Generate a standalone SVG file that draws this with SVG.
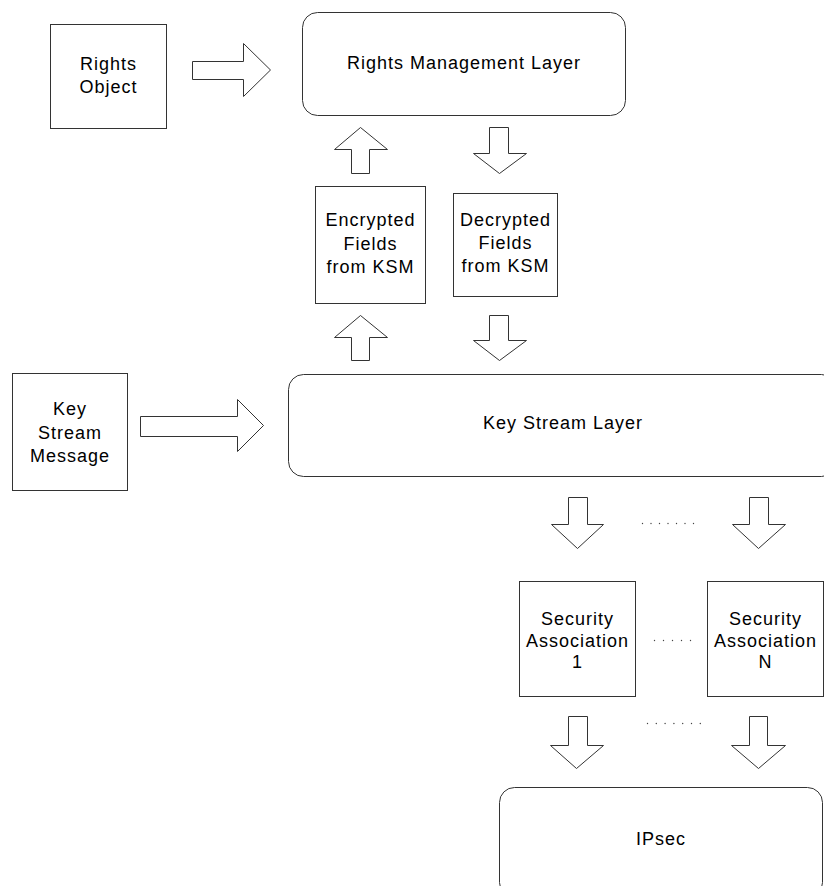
<svg xmlns="http://www.w3.org/2000/svg" width="824" height="886" viewBox="0 0 824 886">
<style>
.box{fill:#fff;stroke:#333;stroke-width:1}
.arr{fill:#fff;stroke:#333;stroke-width:1;stroke-linejoin:miter}
.t{font-family:"Liberation Sans",Arial,sans-serif;font-size:18px;letter-spacing:1px;fill:#000;text-anchor:middle}
.dot{fill:#444}
</style>
<rect width="824" height="886" fill="#fff"/>
<g id="rights-object">
<rect class="box" x="50.5" y="24.5" width="116" height="104"/>
<text class="t" x="108.5" y="70">Rights</text>
<text class="t" x="108.5" y="93">Object</text>
</g>
<g id="rights-management-layer">
<rect class="box" x="302.5" y="12.5" width="323" height="103" rx="15"/>
<text class="t" x="464" y="69">Rights Management Layer</text>
</g>
<g id="encrypted-fields">
<rect class="box" x="315.5" y="186.5" width="110" height="117"/>
<text class="t" x="370.5" y="226">Encrypted</text>
<text class="t" x="370.5" y="249.5">Fields</text>
<text class="t" x="370.5" y="273">from KSM</text>
</g>
<g id="decrypted-fields">
<rect class="box" x="453.5" y="193.5" width="104" height="103"/>
<text class="t" x="505.5" y="225.5">Decrypted</text>
<text class="t" x="505.5" y="248.5">Fields</text>
<text class="t" x="505.5" y="272">from KSM</text>
</g>
<g id="key-stream-message">
<rect class="box" x="12.5" y="373.5" width="115" height="117"/>
<text class="t" x="70" y="415">Key</text>
<text class="t" x="70" y="438.5">Stream</text>
<text class="t" x="70" y="462">Message</text>
</g>
<g id="key-stream-layer">
<rect class="box" x="288.5" y="374.5" width="548" height="102" rx="15"/>
<text class="t" x="563" y="429">Key Stream Layer</text>
</g>
<g id="security-association-1">
<rect class="box" x="519.5" y="581.5" width="116" height="115"/>
<text class="t" x="577.5" y="625">Security</text>
<text class="t" x="577.5" y="646.5">Association</text>
<text class="t" x="577.5" y="668">1</text>
</g>
<g id="security-association-n">
<rect class="box" x="707.5" y="581.5" width="116" height="115"/>
<text class="t" x="765.5" y="625">Security</text>
<text class="t" x="765.5" y="646.5">Association</text>
<text class="t" x="765.5" y="668">N</text>
</g>
<g id="ipsec">
<rect class="box" x="499.5" y="787.5" width="323" height="110" rx="15"/>
<text class="t" x="661" y="845">IPsec</text>
</g>
<g id="connectors">
<polygon class="arr" points="192.5,61.5 243.5,61.5 243.5,43.5 270.5,70 243.5,96.5 243.5,79.5 192.5,79.5"/>
<polygon class="arr" points="140.5,416.5 237.5,416.5 237.5,399.5 263.5,425.5 237.5,451.5 237.5,436.5 140.5,436.5"/>
<polygon class="arr" points="360.5,127.5 387.5,149.5 369.5,149.5 369.5,173.5 351.5,173.5 351.5,149.5 334.5,149.5"/>
<polygon class="arr" points="360.5,315.5 387.5,337.5 369.5,337.5 369.5,360.5 351.5,360.5 351.5,337.5 334.5,337.5"/>
<polygon class="arr" points="489.5,127.5 508.5,127.5 508.5,153.5 526.5,153.5 499.5,173.5 473.5,153.5 489.5,153.5"/>
<polygon class="arr" points="489.5,315.5 508.5,315.5 508.5,340.5 526.5,340.5 499.5,360.5 473.5,340.5 489.5,340.5"/>
<polygon class="arr" points="568.5,497.5 587.5,497.5 587.5,524.5 603.5,524.5 577.5,548.5 551.5,524.5 568.5,524.5"/>
<polygon class="arr" points="749.5,497.5 768.5,497.5 768.5,524.5 785.5,524.5 758.5,548.5 732.5,524.5 749.5,524.5"/>
<polygon class="arr" points="568.5,716.5 587.5,716.5 587.5,745.5 603.5,745.5 576.5,768.5 550.5,745.5 568.5,745.5"/>
<polygon class="arr" points="749.5,716.5 767.5,716.5 767.5,745.5 785.5,745.5 758.5,768.5 731.5,745.5 749.5,745.5"/>
<g class="dot">
<circle cx="642.5" cy="523.5" r="0.7"/><circle cx="651" cy="523.5" r="0.7"/><circle cx="659.5" cy="523.5" r="0.7"/><circle cx="668" cy="523.5" r="0.7"/><circle cx="676.5" cy="523.5" r="0.7"/><circle cx="685" cy="523.5" r="0.7"/><circle cx="693.5" cy="523.5" r="0.7"/>
<circle cx="654.5" cy="640.5" r="0.7"/><circle cx="663.5" cy="640.5" r="0.7"/><circle cx="672.5" cy="640.5" r="0.7"/><circle cx="681.5" cy="640.5" r="0.7"/><circle cx="690.5" cy="640.5" r="0.7"/>
<circle cx="647.5" cy="723.5" r="0.7"/><circle cx="656.3" cy="723.5" r="0.7"/><circle cx="665.1" cy="723.5" r="0.7"/><circle cx="673.9" cy="723.5" r="0.7"/><circle cx="682.7" cy="723.5" r="0.7"/><circle cx="691.5" cy="723.5" r="0.7"/><circle cx="700.3" cy="723.5" r="0.7"/>
</g>
</g>
</svg>
